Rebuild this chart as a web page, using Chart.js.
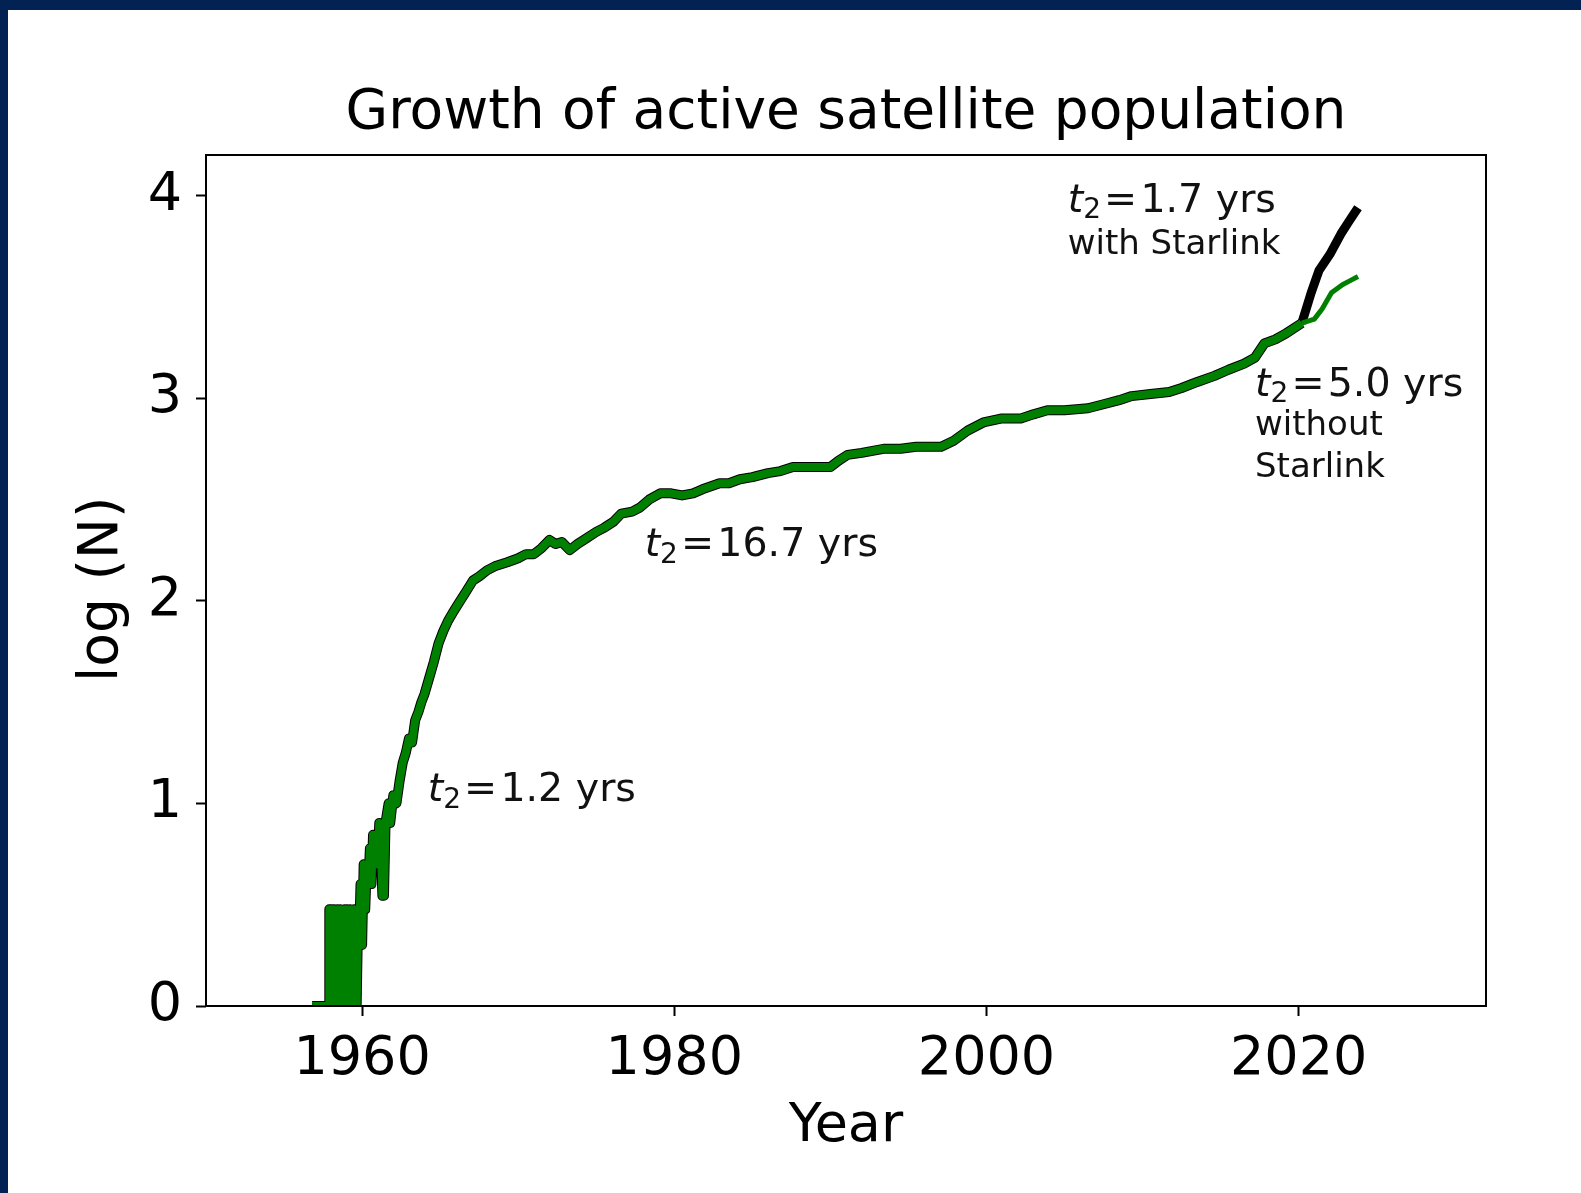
<!DOCTYPE html>
<html>
<head>
<meta charset="utf-8">
<script src="https://cdn.jsdelivr.net/npm/chart.js@4.4.1/dist/chart.umd.min.js"></script>
<style>
  html, body { margin: 0; padding: 0; background: #012252; overflow: hidden; }
  #frame { position: absolute; left: 8px; top: 10px; width: 1573px; height: 1183px; background: #ffffff; }
  #chart { display: block; }
</style>
</head>
<body>
<div id="frame"><canvas id="chart" width="1573" height="1183"></canvas></div>
<script>
// Active satellite count, log10(N), by decimal year (without Starlink)
const years = [
  1956.8, 1957.9, 1957.9, 1958.05, 1958.05, 1958.2, 1958.2, 1958.35, 1958.45, 1958.5,
  1958.62, 1958.7, 1958.72, 1958.85, 1958.9, 1959.0, 1959.05, 1959.15, 1959.25, 1959.3,
  1959.4, 1959.5, 1959.55, 1959.65, 1959.75, 1959.8, 1959.9, 1960.0, 1960.1, 1960.2,
  1960.3, 1960.4, 1960.5, 1960.6, 1960.7, 1960.8, 1960.9, 1961.0, 1961.1, 1961.2,
  1961.3, 1961.35, 1961.4, 1961.5, 1961.6, 1961.7, 1961.8, 1962.0, 1962.2, 1962.4,
  1962.6, 1962.8, 1963.0, 1963.2, 1963.4, 1963.6, 1963.8, 1964.0, 1964.3, 1964.6,
  1964.9, 1965.2, 1965.5, 1965.8, 1966.2, 1966.7, 1967.1, 1967.5, 1968.0, 1968.5,
  1969.3, 1970.0, 1970.5, 1971.0, 1971.5, 1972.0, 1972.4, 1972.8, 1973.3, 1973.8,
  1974.4, 1975.0, 1975.5, 1976.1, 1976.6, 1977.3, 1977.8, 1978.4, 1979.1, 1979.8,
  1980.5, 1981.2, 1981.8, 1982.9, 1983.5, 1984.2, 1985.0, 1986.0, 1986.8, 1987.6,
  1988.5, 1989.5, 1990.0, 1990.5, 1991.1, 1992.0, 1993.4, 1994.5, 1995.5, 1997.1,
  1997.9, 1998.8, 1999.8, 2001.0, 2002.2, 2003.0, 2003.9, 2005.0, 2006.5, 2007.5,
  2008.5, 2009.3, 2010.5, 2011.7, 2012.5, 2013.5, 2014.6, 2015.5, 2016.5, 2017.2,
  2017.8, 2018.5, 2019.2, 2020.2, 2021.0, 2021.5, 2022.1, 2022.8, 2023.3, 2023.8
];
const logActive = [
  0, 0, 0.477, 0.477, 0, 0, 0.477, 0.301, 0.477, 0,
  0.477, 0.301, 0, 0.301, 0.477, 0, 0.477, 0, 0.477, 0.301,
  0, 0.477, 0.301, 0, 0.477, 0.301, 0.602, 0.301, 0.699, 0.477,
  0.699, 0.602, 0.778, 0.602, 0.845, 0.699, 0.845, 0.699, 0.903, 0.778,
  0.544, 0.778, 0.544, 0.903, 0.954, 1.0, 0.903, 1.04, 1.0, 1.11,
  1.2, 1.25, 1.32, 1.30, 1.41, 1.45, 1.50, 1.54, 1.62, 1.70,
  1.79, 1.85, 1.90, 1.94, 1.99, 2.05, 2.10, 2.12, 2.15, 2.17,
  2.19, 2.21, 2.23, 2.23, 2.26, 2.30, 2.28, 2.29, 2.25, 2.28,
  2.31, 2.34, 2.36, 2.39, 2.43, 2.44, 2.46, 2.50, 2.53, 2.53,
  2.52, 2.53, 2.55, 2.58, 2.58, 2.60, 2.61, 2.63, 2.64, 2.66,
  2.66, 2.66, 2.66, 2.69, 2.72, 2.73, 2.75, 2.75, 2.76, 2.76,
  2.79, 2.84, 2.88, 2.90, 2.90, 2.92, 2.94, 2.94, 2.95, 2.97,
  2.99, 3.01, 3.02, 3.03, 3.05, 3.08, 3.11, 3.14, 3.17, 3.20,
  3.27, 3.29, 3.32, 3.37, 3.39, 3.44, 3.52, 3.56, 3.58, 3.60
];

// Starlink era: the total including Starlink splits off here
const splitYear = 2020.2;
const starlinkYears = [2020.8, 2021.3, 2022.0, 2022.7, 2023.2, 2023.8];
const logWithStarlink = [3.52, 3.63, 3.71, 3.81, 3.87, 3.94];

// Axis ticks
const xTicks = [1960, 1980, 2000, 2020];
const yTicks = [0, 1, 2, 3, 4];

const FONT = '"DejaVu Sans", "Liberation Sans", sans-serif';

const withoutPts = years.map((x, i) => ({ x, y: logActive[i] }));
const withPts = withoutPts.filter(p => p.x <= splitYear)
  .concat(starlinkYears.map((x, i) => ({ x, y: logWithStarlink[i] })));

// Doubling-time labels, anchored in data coordinates (left edge, baseline)
const notes = [
  { x: 1964.2, y: 1.01, t2: '1.2 yrs', size: 39.5 },
  { x: 1978.1, y: 2.22, t2: '16.7 yrs', size: 39.5 },
  { x: 2005.2, y: 3.92, t2: '1.7 yrs', size: 39.5, lines: [{ text: 'with Starlink', y: 3.71 }] },
  { x: 2017.2, y: 3.01, t2: '5.0 yrs', size: 39.5, lines: [{ text: 'without', y: 2.82 }, { text: 'Starlink', y: 2.61 }] }
];

const framePlugin = {
  id: 'frame',
  afterDatasetsDraw(chart) {
    const { ctx, chartArea: a } = chart;
    ctx.save();
    ctx.strokeStyle = '#000';
    ctx.lineWidth = 2;
    ctx.strokeRect(a.left, a.top, a.right - a.left, a.bottom - a.top);
    ctx.restore();
  }
};

const notesPlugin = {
  id: 'notes',
  afterDraw(chart) {
    const { ctx, scales } = chart;
    ctx.save();
    ctx.fillStyle = '#111';
    ctx.textBaseline = 'alphabetic';
    ctx.textAlign = 'left';
    for (const n of notes) {
      let px = scales.x.getPixelForValue(n.x);
      const py = scales.y.getPixelForValue(n.y);
      const s = n.size;
      ctx.font = `oblique ${s}px ${FONT}`;
      ctx.fillText('t', px, py);
      px += ctx.measureText('t').width;
      ctx.font = `${Math.round(s * 0.7)}px ${FONT}`;
      ctx.fillText('2', px, py + s * 0.16);
      px += ctx.measureText('2').width + s * 0.08;
      ctx.font = `${s}px ${FONT}`;
      ctx.fillText('=', px, py);
      px += ctx.measureText('=').width + s * 0.08;
      ctx.fillText(n.t2, px, py);
      if (n.lines) {
        ctx.font = `34px ${FONT}`;
        const lx = scales.x.getPixelForValue(n.x);
        for (const l of n.lines) {
          ctx.fillText(l.text, lx, scales.y.getPixelForValue(l.y));
        }
      }
    }
    ctx.restore();
  }
};

// Thicker stroke while the two series coincide, thinner after the split
const beforeSplit = ctx => ctx.p1.parsed.x <= splitYear;

new Chart(document.getElementById('chart'), {
  type: 'line',
  data: {
    datasets: [
      {
        label: 'without Starlink',
        data: withoutPts,
        borderColor: '#008000',
        borderWidth: 8,
        segment: { borderWidth: c => (beforeSplit(c) ? 8 : 5) },
        order: 0
      },
      {
        label: 'with Starlink',
        data: withPts,
        borderColor: '#000000',
        borderWidth: 10,
        segment: { borderWidth: c => (beforeSplit(c) ? 10 : 9) },
        order: 1
      }
    ]
  },
  options: {
    responsive: false,
    animation: false,
    elements: {
      line: { tension: 0, borderJoinStyle: 'round', borderCapStyle: 'butt', fill: false },
      point: { radius: 0, hoverRadius: 0 }
    },
    datasets: { line: { clip: 0 } },
    layout: { padding: { top: 0, left: 0, right: 95, bottom: 0 } },
    plugins: {
      legend: { display: false },
      tooltip: { enabled: false },
      title: {
        display: true,
        fullSize: false,
        text: 'Growth of active satellite population',
        color: '#000',
        font: { family: FONT, size: 55, weight: 'normal', lineHeight: 1.0 },
        padding: { top: 76, bottom: 14 }
      }
    },
    scales: {
      x: {
        type: 'linear',
        min: 1950,
        max: 2032,
        afterBuildTicks: s => { s.ticks = xTicks.map(v => ({ value: v })); },
        afterFit: s => { s.height = 187; },
        grid: {
          display: true, drawOnChartArea: false, drawTicks: true,
          tickLength: 10, tickWidth: 2, tickColor: '#000', color: '#000'
        },
        border: { display: false },
        ticks: {
          color: '#000', padding: 12, maxRotation: 0, autoSkip: false,
          font: { family: FONT, size: 54 },
          callback: v => String(v)
        },
        title: {
          display: true, text: 'Year', color: '#000',
          font: { family: FONT, size: 54 }, padding: { top: 0, bottom: 34 }
        }
      },
      y: {
        type: 'linear',
        min: 0,
        max: 4.2,
        afterBuildTicks: s => { s.ticks = yTicks.map(v => ({ value: v })); },
        afterFit: s => { s.width = 198; },
        grid: {
          display: true, drawOnChartArea: false, drawTicks: true,
          tickLength: 10, tickWidth: 2, tickColor: '#000', color: '#000'
        },
        border: { display: false },
        ticks: {
          color: '#000', padding: 14, autoSkip: false,
          font: { family: FONT, size: 54 },
          callback: v => String(v)
        },
        title: {
          display: true, text: 'log (N) ', color: '#000',
          font: { family: FONT, size: 55 }, padding: { top: 62, bottom: 0 }
        }
      }
    }
  },
  plugins: [framePlugin, notesPlugin]
});
</script>
</body>
</html>
